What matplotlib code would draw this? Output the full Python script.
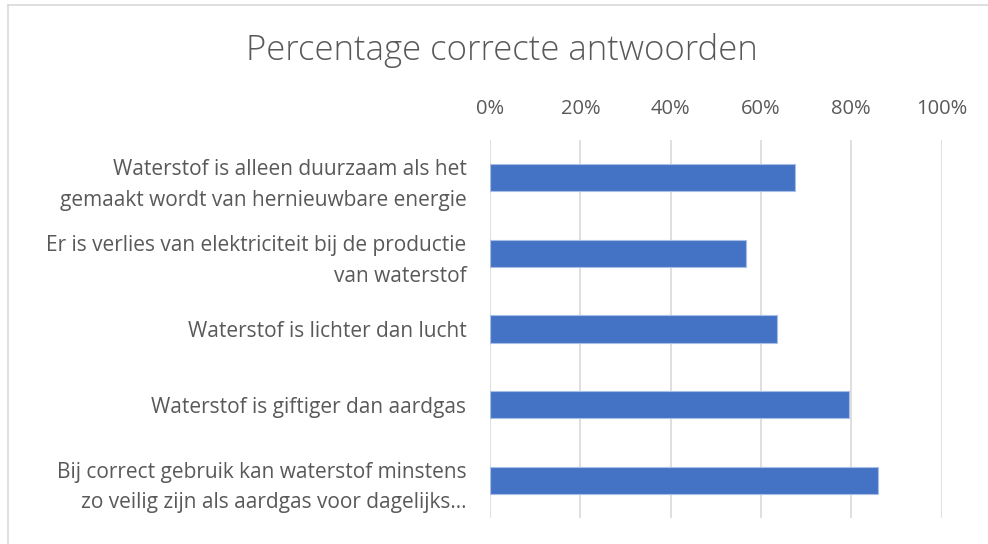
import matplotlib
matplotlib.use("Agg")
import matplotlib.pyplot as plt
from matplotlib.lines import Line2D
from matplotlib.ticker import FuncFormatter

categories = [
    "Waterstof is alleen duurzaam als het\ngemaakt wordt van hernieuwbare energie",
    "Er is verlies van elektriciteit bij de productie\nvan waterstof",
    "Waterstof is lichter dan lucht",
    "Waterstof is giftiger dan aardgas",
    "Bij correct gebruik kan waterstof minstens\nzo veilig zijn als aardgas voor dagelijks...",
]
values = [0.676, 0.566, 0.635, 0.796, 0.860]
tick_values = [0, 0.2, 0.4, 0.6, 0.8, 1.0]

TXT = "#595959"
GRID = "#D9D9D9"
BAR = "#4472C4"

fig = plt.figure(figsize=(9.88, 5.44), dpi=100)
ax = fig.add_axes([0.496, 0.0478, 0.457, 0.6948])

y = list(range(len(categories)))
ax.barh(y, values, height=0.36, color=BAR, edgecolor="#A9BEE6", linewidth=0.8, zorder=3)
ax.set_ylim(len(categories) - 0.5, -0.5)
ax.set_xlim(0, 1)
ax.set_xticks(tick_values)
ax.xaxis.set_major_formatter(FuncFormatter(lambda v, p: f"{v*100:.0f}%"))
ax.xaxis.tick_top()
ax.tick_params(axis="x", length=0, pad=15, labelsize=14.5, labelcolor=TXT)
ax.set_yticks(y)
ax.set_yticklabels(categories, fontsize=15, color=TXT, linespacing=1.6)
ax.tick_params(axis="y", length=0, pad=17)
for lbl in ax.get_xticklabels() + ax.get_yticklabels():
    lbl.set_fontfamily("Open Sans")
ax.grid(axis="x", color=GRID, linewidth=1.2, zorder=0)
for s in ax.spines.values():
    s.set_visible(False)

fig.text(0.508, 1 - 51 / 544, "Percentage correcte antwoorden", ha="center", va="center",
         fontsize=25, color=TXT, fontfamily="Open Sans", fontweight="light")

# chart border (top and left)
fig.add_artist(Line2D([8 / 988, 1], [1 - 5 / 544, 1 - 5 / 544], color=GRID, linewidth=1.2, transform=fig.transFigure))
fig.add_artist(Line2D([8 / 988, 8 / 988], [0, 1 - 5 / 544], color=GRID, linewidth=1.2, transform=fig.transFigure))

fig.savefig("out.png", dpi=100, facecolor="white")
